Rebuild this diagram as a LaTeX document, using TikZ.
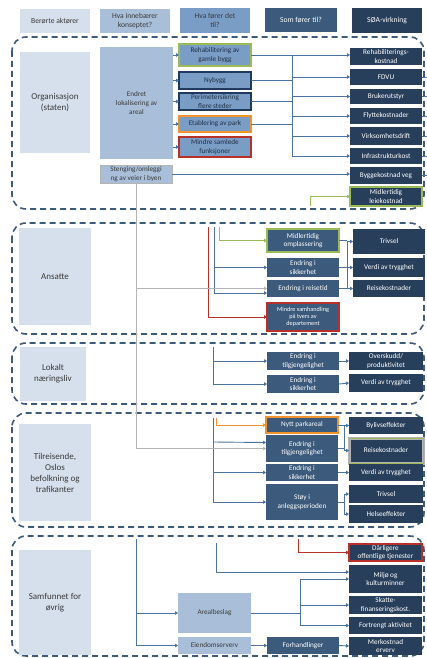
\documentclass[tikz,border=0pt]{standalone}
\usepackage{fontspec}
\setmainfont{Carlito}
\usetikzlibrary{arrows.meta}
\definecolor{actorfill}{HTML}{D6E0EC}
\definecolor{conceptfill}{HTML}{A9BFD9}
\definecolor{midfill}{HTML}{7A9DC6}
\definecolor{somfill}{HTML}{3B5A7C}
\definecolor{soafill}{HTML}{283F5C}
\definecolor{edgec}{HTML}{1F3A5C}
\definecolor{linec}{HTML}{4C72A0}
\definecolor{dashc}{HTML}{3E5A7A}
\definecolor{grn}{HTML}{9BBB59}
\definecolor{orgc}{HTML}{F0922E}
\definecolor{rdc}{HTML}{B8302A}
\definecolor{gry}{HTML}{B4B4B4}
\definecolor{txtc}{HTML}{3A3A3A}
\definecolor{midtxt}{HTML}{1F2F45}
\newcommand\fs{\fontsize{7.2}{8.6}\selectfont}
\newcommand\fsm{\fontsize{6.2}{7.2}\selectfont}
\newcommand\fa{\fontsize{9}{11}\selectfont}
\newcommand\fh{\fontsize{7.6}{9.2}\selectfont}
\newcommand\bx[7]{\node[#1, minimum width=#5pt-#3pt, minimum height=#6pt-#4pt] (#2) at ({(#3+#5)/2},{(#4+#6)/2}) {#7};}
\tikzset{
  base/.style={inner sep=1pt, outer sep=0pt, align=center, font=\fs},
  hdr/.style={base, font=\fh},
  actor/.style={base, fill=actorfill, text=txtc, font=\fa},
  concept/.style={base, fill=conceptfill, text=txtc},
  mid/.style={base, fill=midfill, draw=edgec, line width=1.1pt, text=midtxt},
  som/.style={base, fill=somfill, text=white},
  soa/.style={base, fill=soafill, text=white},
  grp/.style={draw=dashc, line width=1.6pt, dash pattern=on 6pt off 4pt, rounded corners=14pt},
  ln/.style={draw=linec, line width=0.9pt},
  arr/.style={ln, -{Triangle[length=3pt,width=3.6pt]}},
  grnarr/.style={arr, draw=grn},
  orgarr/.style={arr, draw=orgc},
  redarr/.style={arr, draw=rdc},
  gryarr/.style={arr, draw=gry},
}
\begin{document}
\begin{tikzpicture}[x=1pt,y=-1pt]
\useasboundingbox (0,0) rectangle (427,658);
% headers
\bx{hdr, fill=actorfill, text=txtc}{h1}{20}{9}{90}{33}{Berørte aktører}
\bx{hdr, fill=conceptfill, text=txtc}{h2}{100}{9}{170}{33}{Hva innebærer\\konseptet?}
\bx{hdr, fill=midfill, text=txtc}{h3}{180}{8}{250}{33}{Hva fører det\\til?}
\bx{hdr, fill=somfill, text=white}{h4}{265}{8}{337}{32}{Som fører til?}
\bx{hdr, fill=soafill, text=white}{h5}{352}{8}{422}{33}{SØA-virkning}
% groups
\draw[grp] (12,37) rectangle (424,209);
\draw[grp] (12,223) rectangle (424,334);
\draw[grp] (12,343) rectangle (424,404);
\draw[grp] (12,413) rectangle (424,527);
\draw[grp] (12,536) rectangle (424,656);
% actors
\bx{actor}{a1}{20}{52}{90}{153}{Organisasjon\\(staten)}
\bx{actor}{a2}{19}{228}{91}{325}{Ansatte}
\bx{actor}{a3}{20}{347}{86}{401}{Lokalt\\næringsliv}
\bx{actor}{a4}{19}{424}{91}{521}{Tilreisende,\\Oslos\\befolkning og\\trafikanter}
\bx{actor}{a5}{19}{550}{91}{655}{Samfunnet for\\øvrig}
% organisasjon
\bx{concept}{c1}{100}{47}{173}{159}{Endret\\lokalisering av\\areal}
\bx{concept, draw=gry, line width=1pt}{c2}{100}{165}{172}{183}{Stenging/omleggi\\ng av veier i byen}
\bx{mid, draw=edgec, double=grn, double distance=1.1pt, line width=0.55pt}{m1}{179}{44}{251}{66}{Rehabilitering av\\gamle bygg}
\bx{mid}{m2}{179}{72}{251}{89}{Nybygg}
\bx{mid}{m3}{179}{93}{251}{110}{Perimetersikring\\flere steder}
\bx{mid, draw=orgc}{m4}{179}{116}{251}{132}{Etablering av park}
\bx{mid, draw=rdc}{m5}{179}{137}{251}{157}{Mindre samlede\\funksjoner}
\bx{soa}{s1}{350}{48}{422}{65}{Rehabiliterings-\\kostnad}
\bx{soa}{s2}{350}{69}{422}{85}{FDVU}
\bx{soa}{s3}{350}{89}{422}{104}{Brukerutstyr}
\bx{soa}{s4}{350}{108}{422}{124}{Flyttekostnader}
\bx{soa}{s5}{350}{127}{422}{145}{Virksomhetsdrift}
\bx{soa}{s6}{350}{148}{422}{164}{Infrastrukturkost}
\bx{soa}{s7}{350}{167}{422}{184}{Byggekostnad veg}
\bx{soa, draw=grn, line width=1.3pt}{s8}{350}{187}{422}{206}{Midlertidig\\leiekostnad}
\foreach \m in {m1,m2,m3,m4,m5}{\draw[arr] (c1.east |- \m.west) -- (\m.west);}
\coordinate (bt) at (292,55);
\coordinate (bb) at (292,156);
\coordinate (re) at (427,0);
\draw[ln] (bt) -- (bb);
\draw[arr] (m1.east) -- (s1.west |- m1.east);
\foreach \m in {m2,m3,m4}{\draw[ln] (\m.east) -- (\m.east -| bt);}
\foreach \s in {s2,s3,s4,s5,s6}{\draw[arr] (bt |- \s.west) -- (\s.west);}
\foreach \s in {s2,s3,s4,s5,s6,s7}{\draw[ln] (\s.east) -- (\s.east -| re);}
\draw[arr] (c2.east) -- (s7.west |- c2.east);
\coordinate (gl) at (310,206);
\draw[grnarr] (gl) |- (s8.west);
% ansatte
\bx{som, draw=grn, line width=1.3pt}{n1}{267}{229}{339}{252}{Midlertidig\\omplassering}
\bx{som}{n2}{267}{258}{339}{277}{Endring i\\sikkerhet}
\bx{som}{n3}{267}{280}{339}{297}{Endring i reisetid}
\bx{som, draw=rdc, line width=1.3pt, font=\fsm}{n4}{267}{303}{339}{331}{Mindre samhandling\\på tvers av\\departement}
\bx{soa}{t1}{353}{229}{425}{254}{Trivsel}
\bx{soa}{t2}{353}{258}{425}{277}{Verdi av trygghet}
\bx{soa}{t3}{353}{280}{425}{297}{Reisekostnader}
\coordinate (r1) at (208,227);
\coordinate (b1) at (214,227);
\coordinate (g1) at (219,227);
\draw[redarr] (r1) |- (n4.west);
\draw[arr] (b1) |- ([yshift=-4.5pt]n3.west);
\draw[arr] (b1 |- n2.west) -- (n2.west);
\draw[grnarr] (g1) |- (n1.west);
\draw[gry, line width=0.9pt] (c2.south) -- (c2.south |- 0,448);
\draw[gryarr] (c2.south |- n3.west) -- (n3.west);
\coordinate (ab) at (347,241);
\foreach \n in {n1,n2,n3}{\draw[ln] (\n.east) -- (\n.east -| ab);}
\draw[ln] (ab |- t1.west) -- (ab |- t3.west);
\foreach \t in {t1,t2,t3}{\draw[arr] (ab |- \t.west) -- (\t.west);}
% lokalt naeringsliv
\bx{som}{l1}{267}{352}{339}{370}{Endring i\\tilgjengelighet}
\bx{som}{l2}{267}{375}{339}{393}{Endring i\\sikkerhet}
\bx{soa}{o1}{349}{352}{423}{370}{Overskudd/\\produktivitet}
\bx{soa}{o2}{349}{374}{423}{392}{Verdi av trygghet}
\coordinate (lb) at (213,347);
\draw[arr] (lb) |- (l2.west);
\draw[arr] (lb |- l1.west) -- (l1.west);
\draw[arr] (l1.east) -- (o1.west);
\draw[arr] (l2.east) -- (o2.west);
% tilreisende
\bx{som, draw=orgc, line width=1.3pt}{p1}{266}{417}{338}{433}{Nytt parkareal}
\bx{som}{p2}{266}{435}{338}{462}{Endring i\\tilgjengelighet}
\bx{som}{p3}{266}{464}{338}{481}{Endring i\\sikkerhet}
\bx{som}{p4}{266}{484}{338}{520}{Støy i\\anleggsperioden}
\bx{soa}{q1}{349}{417}{423}{434}{Bylivseffekter}
\bx{soa, draw=gry, double=grn, double distance=1pt, line width=1pt}{q2}{349}{438}{423}{463}{Reisekostnader}
\bx{soa}{q3}{349}{464}{423}{481}{Verdi av trygghet}
\bx{soa}{q4}{349}{485}{423}{503}{Trivsel}
\bx{soa}{q5}{349}{505}{423}{523}{Helseeffekter}
\coordinate (tb) at (213,418);
\coordinate (ob) at (216,418);
\draw[arr] (tb) |- (p4.west);
\draw[arr] (tb |- 0,442) -- ([yshift=6pt]p2.west);
\draw[arr] (tb |- p3.west) -- (p3.west);
\draw[orgarr] (ob) |- (p1.west);
\draw[gryarr] (c2.south |- p2.west) -- (p2.west);
\coordinate (tb2) at (344,425);
\foreach \p in {p1,p2,p4}{\draw[ln] (\p.east) -- (\p.east -| tb2);}
\draw[ln] (tb2 |- q1.west) -- (tb2 |- q2.west);
\draw[ln] (tb2 |- q4.west) -- (tb2 |- q5.west);
\foreach \q in {q1,q2,q4,q5}{\draw[arr] (tb2 |- \q.west) -- (\q.west);}
\draw[arr] (p3.east) -- (q3.west);
% samfunnet
\bx{concept}{e1}{178}{593}{251}{633}{Arealbeslag}
\bx{concept}{e2}{178}{637}{251}{654}{Eiendomserverv}
\bx{som}{e3}{267}{637}{339}{654}{Forhandlinger}
\bx{soa, draw=rdc, line width=1.3pt}{f1}{349}{544}{422}{561}{Dårligere\\offentlige tjenester}
\bx{soa}{f2}{349}{565}{422}{593}{Miljø og\\kulturminner}
\bx{soa}{f3}{349}{596}{422}{614}{Skatte-\\finanseringskost.}
\bx{soa}{f4}{349}{617}{422}{634}{Fortrengt aktivitet}
\bx{soa}{f5}{349}{637}{422}{655}{Merkostnad\\erverv}
\coordinate (sb) at (136,539);
\coordinate (sb2) at (216,543);
\coordinate (rb) at (298,539);
\draw[arr] (sb) |- (e2.west);
\draw[arr] (sb |- e1.west) -- (e1.west);
\draw[arr] (sb2) |- ([yshift=7pt]f2.west);
\draw[redarr] (rb) |- (f1.west);
\coordinate (ab2) at (300,579);
\draw[ln] (e1.east) -- (e1.east -| ab2);
\draw[ln] (ab2 |- f2.west) -- (ab2 |- f4.west);
\foreach \f in {f2,f3,f4}{\draw[arr] (ab2 |- \f.west) -- (\f.west);}
\draw[arr] (e2.east) -- (e3.west);
\draw[arr] (e3.east) -- (f5.west);
\end{tikzpicture}
\end{document}
